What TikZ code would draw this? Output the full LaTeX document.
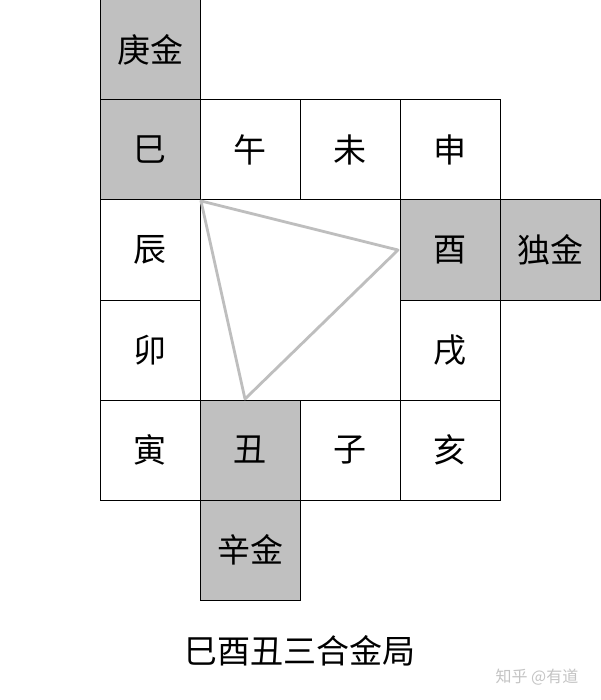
\documentclass[tikz,border=0pt]{standalone}
\usepackage{fontspec}
\newfontfamily\cjk{Noto Sans CJK SC}
\definecolor{cellgray}{HTML}{C0C0C0}
\definecolor{trigray}{HTML}{BEBEBE}
\definecolor{wmgray}{HTML}{C4C4C4}
\begin{document}
\begin{tikzpicture}[x=1pt,y=-1pt,
  cell/.style={draw=black, line width=1pt, minimum size=100pt, inner sep=0pt, font=\cjk\fontsize{33}{33}\selectfont},
  hl/.style={cell, fill=cellgray},
  tri/.style={draw=trigray, line width=2.8pt, line join=round}]
\useasboundingbox (0,0) rectangle (600,700);
\fill[white] (0,0) rectangle (600,700);
% white cells
\node[cell] (wu)   at (250,150) {午};
\node[cell] (wei)  at (350,150) {未};
\node[cell] (shen) at (450,150) {申};
\node[cell] (chen) at (150,250) {辰};
\node[cell] (mao)  at (150,350) {卯};
\node[cell] (xu)   at (450,350) {戌};
\node[cell] (yin)  at (150,450) {寅};
\node[cell] (zi)   at (350,450) {子};
\node[cell] (hai)  at (450,450) {亥};
% interior frame
\node[draw=black, line width=1pt, minimum size=200pt, inner sep=0pt] (mid) at (300,300) {};
% gray cells
\node[hl] (geng) at (150,50)  {庚金};
\node[hl] (si)   at (150,150) {巳};
\node[hl] (you)  at (450,250) {酉};
\node[hl] (du)   at (550,250) {独金};
\node[hl] (chou) at (250,450) {丑};
\node[hl] (xin)  at (250,550) {辛金};
% triangle
\coordinate (a) at (201,201);
\coordinate (b) at (398,250);
\coordinate (c) at (245,399);
\draw[tri] (a) -- (b) -- (c) -- cycle;
% caption
\node[font=\cjk\fontsize{33}{33}\selectfont, inner sep=0pt] (cap) at (300,651) {巳酉丑三合金局};
\node[font=\cjk\fontsize{16}{16}\selectfont, text=wmgray, inner sep=0pt] (wm) at (537,677) {知乎 @有道};
\end{tikzpicture}
\end{document}
